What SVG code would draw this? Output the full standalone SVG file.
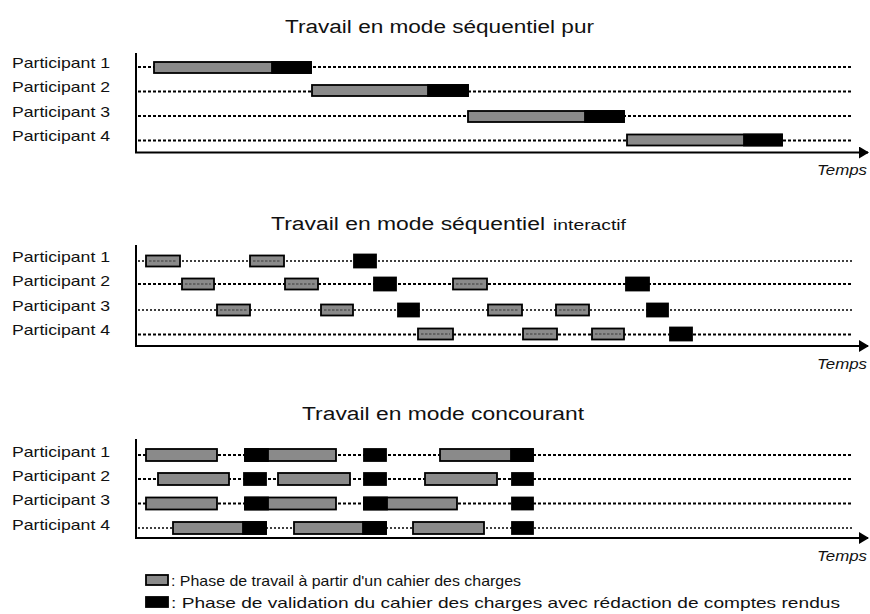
<svg xmlns="http://www.w3.org/2000/svg" width="870" height="614" viewBox="0 0 870 614">
<style>
text{font-family:"Liberation Sans",Arial,sans-serif;fill:#111}
.ttl{font-size:18px}
.lbl{font-size:15px}
.tmp{font-size:15px;font-style:italic}
.leg{font-size:15px}
.axis{stroke:#000;stroke-width:2;fill:none}
.dl{stroke:#000;stroke-width:2;stroke-dasharray:3 2;fill:none}
.dt{stroke:#000;stroke-width:1.4;stroke-dasharray:2 2;fill:none}
.w{fill:#8a8a8a;stroke:#000;stroke-width:1.8}
.v{fill:#000;stroke:#000;stroke-width:1.8}
.in{stroke:#3a3a3a;stroke-width:1.2;stroke-dasharray:2.5 1.5}
</style>
<defs>
<marker id="ah" markerWidth="10" markerHeight="12" refX="9" refY="6" orient="auto" markerUnits="userSpaceOnUse">
<path d="M0,0 L10,6 L0,12 Z" fill="#000"/>
</marker>
</defs>
<rect width="870" height="614" fill="#fff"/>

<!-- Section 1 -->
<g id="sec1">
<text class="ttl" x="285" y="33" textLength="309" lengthAdjust="spacingAndGlyphs">Travail en mode séquentiel pur</text>
<g id="s1-labels">
<text class="lbl" x="12" y="68" textLength="98" lengthAdjust="spacingAndGlyphs">Participant 1</text>
<text class="lbl" x="12" y="92" textLength="98" lengthAdjust="spacingAndGlyphs">Participant 2</text>
<text class="lbl" x="12" y="117" textLength="98" lengthAdjust="spacingAndGlyphs">Participant 3</text>
<text class="lbl" x="12" y="141" textLength="98" lengthAdjust="spacingAndGlyphs">Participant 4</text>
</g>
<g id="s1-lines">
<line class="dl" x1="138" y1="67" x2="853" y2="67"/>
<line class="dl" x1="138" y1="91.5" x2="853" y2="91.5"/>
<line class="dl" x1="138" y1="116" x2="853" y2="116"/>
<line class="dl" x1="138" y1="140.5" x2="853" y2="140.5"/>
</g>
<g id="s1-bars">
<rect class="w" x="154" y="62" width="157" height="11"/><rect class="v" x="272" y="62" width="39" height="11"/>
<rect class="w" x="312" y="85" width="156" height="11"/><rect class="v" x="428" y="85" width="40" height="11"/>
<rect class="w" x="468" y="111" width="156" height="11"/><rect class="v" x="585" y="111" width="39" height="11"/>
<rect class="w" x="627" y="134.5" width="155" height="11"/><rect class="v" x="744" y="134.5" width="38" height="11"/>
</g>
<g id="s1-axes">
<line class="axis" x1="136" y1="53" x2="136" y2="153"/>
<line class="axis" x1="135" y1="152.5" x2="868" y2="152.5" marker-end="url(#ah)"/>
</g>
<text class="tmp" x="817" y="175" textLength="50" lengthAdjust="spacingAndGlyphs">Temps</text>
</g>

<!-- Section 2 -->
<g id="sec2">
<text class="ttl" x="271" y="230" textLength="274" lengthAdjust="spacingAndGlyphs">Travail en mode séquentiel</text>
<text class="ttl" x="553" y="230" style="font-size:15px" textLength="73" lengthAdjust="spacingAndGlyphs">interactif</text>
<g id="s2-labels">
<text class="lbl" x="12" y="262" textLength="98" lengthAdjust="spacingAndGlyphs">Participant 1</text>
<text class="lbl" x="12" y="286" textLength="98" lengthAdjust="spacingAndGlyphs">Participant 2</text>
<text class="lbl" x="12" y="310.5" textLength="98" lengthAdjust="spacingAndGlyphs">Participant 3</text>
<text class="lbl" x="12" y="335" textLength="98" lengthAdjust="spacingAndGlyphs">Participant 4</text>
</g>
<g id="s2-lines">
<line class="dt" x1="138" y1="261" x2="853" y2="261"/>
<line class="dl" x1="138" y1="284" x2="853" y2="284"/>
<line class="dt" x1="138" y1="310" x2="853" y2="310"/>
<line class="dl" x1="138" y1="334.5" x2="853" y2="334.5"/>
</g>
<g id="s2-boxes">
<rect class="w" x="146" y="255.5" width="34" height="11"/><line class="in" x1="149" y1="261" x2="177" y2="261"/>
<rect class="w" x="250" y="255.5" width="34" height="11"/><line class="in" x1="253" y1="261" x2="281" y2="261"/>
<rect class="v" x="354" y="254.5" width="22" height="13"/>

<rect class="w" x="182" y="278.5" width="32" height="11"/><line class="in" x1="185" y1="284" x2="211" y2="284"/>
<rect class="w" x="285" y="278.5" width="33" height="11"/><line class="in" x1="288" y1="284" x2="315" y2="284"/>
<rect class="v" x="374" y="277.5" width="22" height="13"/>
<rect class="w" x="453" y="278.5" width="34" height="11"/><line class="in" x1="456" y1="284" x2="484" y2="284"/>
<rect class="v" x="626" y="277.5" width="23" height="13"/>

<rect class="w" x="217" y="304.5" width="33" height="11"/><line class="in" x1="220" y1="310" x2="247" y2="310"/>
<rect class="w" x="321" y="304.5" width="32" height="11"/><line class="in" x1="324" y1="310" x2="350" y2="310"/>
<rect class="v" x="398" y="303.5" width="21" height="13"/>
<rect class="w" x="488" y="304.5" width="34" height="11"/><line class="in" x1="491" y1="310" x2="519" y2="310"/>
<rect class="w" x="556" y="304.5" width="33" height="11"/><line class="in" x1="559" y1="310" x2="586" y2="310"/>
<rect class="v" x="647" y="303.5" width="21" height="13"/>

<rect class="w" x="418" y="328.5" width="35" height="11"/><line class="in" x1="421" y1="334" x2="450" y2="334"/>
<rect class="w" x="523" y="328.5" width="34" height="11"/><line class="in" x1="526" y1="334" x2="554" y2="334"/>
<rect class="w" x="592" y="328.5" width="32" height="11"/><line class="in" x1="595" y1="334" x2="621" y2="334"/>
<rect class="v" x="670" y="327.5" width="22" height="13"/>
</g>
<g id="s2-axes">
<line class="axis" x1="136" y1="245" x2="136" y2="346"/>
<line class="axis" x1="135" y1="346" x2="868" y2="346" marker-end="url(#ah)"/>
</g>
<text class="tmp" x="817" y="368.5" textLength="50" lengthAdjust="spacingAndGlyphs">Temps</text>
</g>

<!-- Section 3 -->
<g id="sec3">
<text class="ttl" x="302" y="420" textLength="282" lengthAdjust="spacingAndGlyphs">Travail en mode concourant</text>
<g id="s3-labels">
<text class="lbl" x="12" y="457" textLength="98" lengthAdjust="spacingAndGlyphs">Participant 1</text>
<text class="lbl" x="12" y="481" textLength="98" lengthAdjust="spacingAndGlyphs">Participant 2</text>
<text class="lbl" x="12" y="505" textLength="98" lengthAdjust="spacingAndGlyphs">Participant 3</text>
<text class="lbl" x="12" y="529.5" textLength="98" lengthAdjust="spacingAndGlyphs">Participant 4</text>
</g>
<g id="s3-lines">
<line class="dl" x1="138" y1="455" x2="853" y2="455"/>
<line class="dl" x1="138" y1="479" x2="853" y2="479"/>
<line class="dl" x1="138" y1="503.5" x2="853" y2="503.5"/>
<line class="dt" x1="138" y1="528" x2="853" y2="528"/>
</g>
<g id="s3-bars">
<rect class="w" x="146" y="449" width="71" height="12"/>
<rect class="w" x="245" y="449" width="91" height="12"/><rect class="v" x="245" y="449" width="23" height="12"/>
<rect class="v" x="364" y="449" width="22" height="12"/>
<rect class="w" x="440" y="449" width="93" height="12"/><rect class="v" x="511" y="449" width="22" height="12"/>

<rect class="w" x="158" y="473" width="71" height="12"/>
<rect class="v" x="244" y="473" width="22" height="12"/>
<rect class="w" x="278" y="473" width="72" height="12"/>
<rect class="v" x="364" y="473" width="22" height="12"/>
<rect class="w" x="425" y="473" width="72" height="12"/>
<rect class="v" x="512" y="473" width="21" height="12"/>

<rect class="w" x="146" y="497.5" width="71" height="12"/>
<rect class="w" x="245" y="497.5" width="91" height="12"/><rect class="v" x="245" y="497.5" width="23" height="12"/>
<rect class="w" x="364" y="497.5" width="93" height="12"/><rect class="v" x="364" y="497.5" width="23" height="12"/>
<rect class="v" x="512" y="497.5" width="21" height="12"/>

<rect class="w" x="173" y="522" width="93" height="12"/><rect class="v" x="243" y="522" width="23" height="12"/>
<rect class="w" x="294" y="522" width="92" height="12"/><rect class="v" x="363" y="522" width="23" height="12"/>
<rect class="w" x="413" y="522" width="71" height="12"/>
<rect class="v" x="512" y="522" width="21" height="12"/>
</g>
<g id="s3-axes">
<line class="axis" x1="136" y1="439" x2="136" y2="538"/>
<line class="axis" x1="135" y1="538" x2="868" y2="538" marker-end="url(#ah)"/>
</g>
<text class="tmp" x="817" y="560.5" textLength="50" lengthAdjust="spacingAndGlyphs">Temps</text>
</g>

<!-- Legend -->
<g id="legend">
<rect class="w" x="146" y="575" width="22" height="10"/>
<text class="leg" x="171" y="585.5" textLength="350" lengthAdjust="spacingAndGlyphs">: Phase de travail à partir d'un cahier des charges</text>
<rect class="v" x="146" y="597" width="22" height="10"/>
<text class="leg" x="171" y="607.5" textLength="669" lengthAdjust="spacingAndGlyphs">: Phase de validation du cahier des charges avec rédaction de comptes rendus</text>
</g>
</svg>
